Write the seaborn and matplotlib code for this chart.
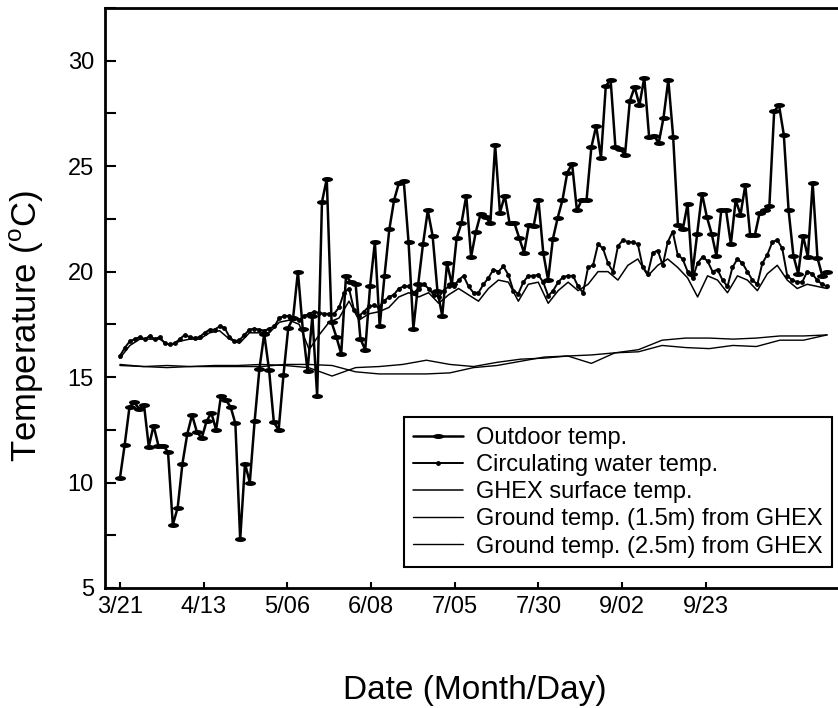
import numpy as np
import pandas as pd
import matplotlib
matplotlib.use("Agg")
import matplotlib.pyplot as plt
from matplotlib.ticker import MultipleLocator
import seaborn as sns

outdoor_temp = [
    10.2, 11.8, 13.6, 13.8, 13.5, 13.7, 11.7, 12.7, 11.75, 11.75,
    11.45, 8.0, 8.8, 10.9, 12.3, 13.2, 12.4, 12.1, 12.9, 13.3,
    12.5, 14.1, 13.9, 13.6, 12.8, 7.3, 10.9, 10.0, 12.9, 15.4,
    17.05, 15.35, 12.85, 12.5, 15.1, 17.35, 17.8, 20.0, 17.3, 15.3,
    17.9, 14.1, 23.3, 24.4, 17.6, 16.9, 16.1, 19.8, 19.5, 19.4,
    16.8, 16.3, 19.3, 21.4, 17.4, 19.8, 22.0, 23.4, 24.2, 24.3,
    21.4, 17.3, 19.4, 21.3, 22.9, 21.7, 19.1, 17.9, 20.4, 19.4,
    21.6, 22.3, 23.6, 20.7, 21.9, 22.75, 22.6, 22.3, 26.0, 22.8,
    23.6, 22.3, 22.3, 21.6, 20.9, 22.2, 22.15, 23.4, 20.9, 19.6,
    21.55, 22.55, 23.4, 24.7, 25.1, 22.9, 23.4, 23.4, 25.9, 26.9,
    25.4, 28.8, 29.1, 25.9, 25.8, 25.55, 28.1, 28.75, 27.9, 29.2,
    26.4, 26.45, 26.1, 27.3, 29.1, 26.4, 22.2, 22.0, 23.2, 19.9,
    21.8, 23.7, 22.6, 21.8, 20.75, 22.9, 22.9, 21.3, 23.4, 22.7,
    24.1, 21.75, 21.75, 22.8, 22.9, 23.1, 27.6, 27.9, 26.5, 22.9,
    20.75, 19.9, 21.7, 20.7, 24.2, 20.65, 19.8, 20.0,
]

# Circulating water temperature
water_temp = [
    16.0, 16.4, 16.7, 16.8, 16.9, 16.8, 16.95, 16.8, 16.9, 16.6,
    16.55, 16.6, 16.8, 17.0, 16.9, 16.85, 16.9, 17.1, 17.25, 17.25,
    17.4, 17.35, 16.9, 16.7, 16.75, 17.0, 17.25, 17.3, 17.25, 17.2,
    17.3, 17.4, 17.8, 17.9, 17.9, 17.8, 17.7, 17.9, 18.0, 18.1,
    18.05, 18.0, 18.0, 18.0, 18.3, 19.0, 19.2, 18.2, 17.9, 18.1,
    18.35, 18.4, 18.3, 18.6, 18.8, 18.9, 19.2, 19.3, 19.3, 19.0,
    19.2, 19.4, 19.2, 18.9, 18.8, 19.1, 19.3, 19.3, 19.6, 19.8,
    19.3, 19.0, 19.0, 19.4, 19.7, 20.1, 20.0, 20.25, 19.85, 19.1,
    18.95, 19.5, 19.8, 19.8, 19.85, 19.5, 18.85, 19.1, 19.5, 19.75,
    19.8, 19.8, 19.3, 19.0, 20.2, 20.3, 21.3, 21.1, 20.4, 20.0,
    21.2, 21.5, 21.4, 21.4, 21.3, 20.2, 19.9, 20.9, 21.0, 20.3,
    21.4, 21.9, 20.8, 20.6, 20.0, 19.7, 20.4, 20.7, 20.5, 20.0,
    20.1, 19.6, 19.3, 20.2, 20.6, 20.4, 20.0, 19.6, 19.4, 20.4,
    20.8, 21.4, 21.5, 21.1, 19.8, 19.6, 19.5, 19.5, 20.0, 19.9,
    19.6, 19.4, 19.3,
]

# GHEX surface temperature
surface_temp = [
    15.9, 16.5, 16.8, 16.8, 16.8, 16.5, 16.7, 16.8, 16.8, 17.1,
    17.2, 16.8, 16.6, 17.1, 17.1, 17.1, 17.6, 17.7, 17.5, 16.3,
    17.0, 17.6, 17.8, 18.6, 17.7, 18.0, 18.1, 18.3, 18.8, 19.0,
    18.8, 19.0, 18.5, 18.9, 19.2, 18.9, 18.6, 19.2, 19.6, 19.5,
    18.6, 19.4, 19.5, 18.5, 19.1, 19.5, 19.1, 19.4, 20.0, 20.0,
    19.6, 20.3, 20.6, 19.8, 20.3, 20.6, 20.2, 19.7, 18.8, 19.8,
    19.6, 19.0, 19.8, 19.6, 19.1, 19.9, 20.3, 19.6, 19.2, 19.4,
    19.3, 19.2,
]

# Ground temperatures at 1.5 m and 2.5 m from the GHEX
ground_15m = [
    15.6, 15.5, 15.55, 15.5, 15.55, 15.55, 15.6, 15.55, 15.45, 15.05,
    15.45, 15.5, 15.6, 15.8, 15.6, 15.5, 15.7, 15.85, 15.9, 16.0,
    16.05, 16.15, 16.3, 16.75, 16.85, 16.85, 16.8, 16.85, 16.95, 16.95,
    17.0,
]
ground_25m = [
    15.55, 15.5, 15.45, 15.5, 15.5, 15.5, 15.5, 15.6, 15.6, 15.55,
    15.25, 15.15, 15.15, 15.15, 15.2, 15.45, 15.55, 15.75, 15.95, 16.0,
    15.65, 16.15, 16.2, 16.5, 16.4, 16.35, 16.5, 16.45, 16.75, 16.75,
    17.0,
]

date_labels = ["3/21", "4/13", "5/06", "6/08", "7/05", "7/30", "9/02", "9/23"]

# sample index axis shared by all series
n_days = len(outdoor_temp)
day_idx = np.arange(n_days)
last = n_days - 1


def on_days(values):
    return pd.DataFrame({"day": np.linspace(0, last, len(values)), "temp": values})


sns.set_style("ticks")
plt.rcParams["font.family"] = ["Liberation Sans", "DejaVu Sans"]
plt.rcParams["mathtext.fontset"] = "custom"
plt.rcParams["mathtext.rm"] = "Liberation Sans"
plt.rcParams["text.color"] = "black"
plt.rcParams["axes.labelcolor"] = "black"

fig = plt.figure(figsize=(8.38, 7.08), dpi=100)
ax = fig.add_axes([105 / 838, 120 / 708, 737 / 838, 580 / 708])

# wide flat marker like the scanned original
t = np.linspace(0, 2 * np.pi, 24)
blob = list(zip(1.0 * np.cos(t), 0.45 * np.sin(t)))

sns.lineplot(data=on_days(ground_15m), x="day", y="temp", ax=ax, color="black",
             linewidth=1.0, label="Ground temp. (1.5m) from GHEX", zorder=2)
sns.lineplot(data=on_days(ground_25m), x="day", y="temp", ax=ax, color="black",
             linewidth=1.0, label="Ground temp. (2.5m) from GHEX", zorder=2)
sns.lineplot(data=on_days(surface_temp), x="day", y="temp", ax=ax, color="black",
             linewidth=1.1, label="GHEX surface temp.", zorder=3)
sns.lineplot(data=on_days(water_temp), x="day", y="temp", ax=ax, color="black",
             linewidth=1.4, marker="o", markersize=3.5, markeredgewidth=0,
             label="Circulating water temp.", zorder=4)
sns.lineplot(x=day_idx, y=outdoor_temp, ax=ax, color="black", linewidth=1.8,
             marker=blob, markersize=8, markeredgewidth=0,
             label="Outdoor temp.", zorder=5)

ax.set_xlim(-3.1, 150.1)
ax.set_ylim(5, 32.5)

tick_step = 17.4
ax.set_xticks(np.arange(len(date_labels)) * tick_step)
ax.set_xticklabels(date_labels)
ax.set_yticks([5, 10, 15, 20, 25, 30])
ax.yaxis.set_minor_locator(MultipleLocator(2.5))
ax.tick_params(axis="both", which="both", direction="in", colors="black",
               labelsize=17, width=1.5)
ax.tick_params(axis="y", which="major", length=8, pad=8)
ax.tick_params(axis="y", which="minor", length=8)
ax.tick_params(axis="x", which="major", length=4, pad=6)

for side in ["left", "bottom", "top", "right"]:
    ax.spines[side].set_linewidth(2.0)
    ax.spines[side].set_color("black")

ax.set_xlabel("Date (Month/Day)", fontsize=24)
ax.set_ylabel(r"Temperature ($^{\mathrm{o}}$C)", fontsize=25)
ax.xaxis.set_label_coords(0.502, -0.150)
ax.yaxis.set_label_coords(-0.080, 0.452)

handles, labels = ax.get_legend_handles_labels()
order = ["Outdoor temp.", "Circulating water temp.", "GHEX surface temp.",
         "Ground temp. (1.5m) from GHEX", "Ground temp. (2.5m) from GHEX"]
lookup = dict(zip(labels, handles))
leg = ax.legend([lookup[k] for k in order], order, loc="lower right",
                bbox_to_anchor=(0.986, 0.036), borderaxespad=0, fontsize=17,
                frameon=True, fancybox=False, framealpha=1, edgecolor="black",
                handlelength=2.1, handletextpad=0.55, labelspacing=0.22,
                borderpad=0.4)
leg.get_frame().set_linewidth(1.5)
for txt in leg.get_texts():
    txt.set_color("black")

fig.savefig("out.png", dpi=100)
